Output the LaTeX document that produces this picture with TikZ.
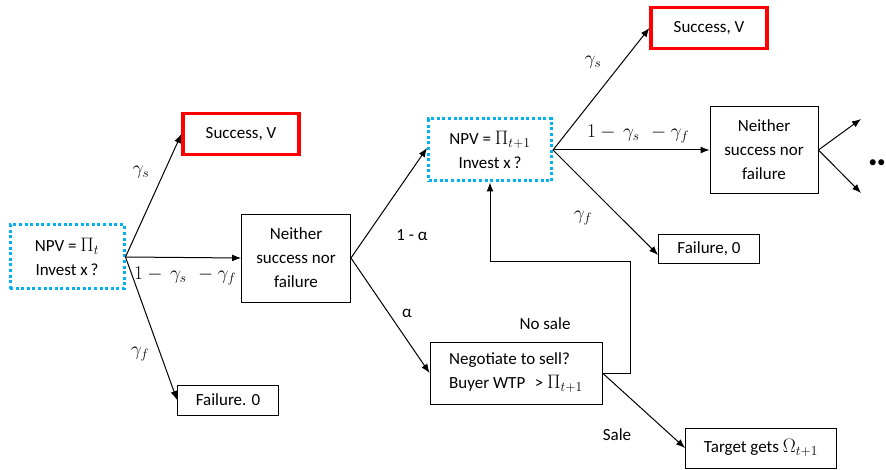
\documentclass[tikz,border=0pt]{standalone}
\usepackage{fix-cm}
\usepackage{fontspec}
\setmainfont{Carlito}
\DeclareMathSizes{17}{19.5}{13.5}{10}
\usetikzlibrary{arrows.meta}
\definecolor{cyanbox}{RGB}{0,176,240}
\definecolor{redbox}{RGB}{255,0,0}
\begin{document}
\begin{tikzpicture}[x=1pt,y=-1pt,
  every node/.style={font=\fontsize{17}{24}\selectfont},
  plain/.style={draw=black,line width=0.9pt,inner sep=0pt,align=center},
  dotbox/.style={draw=cyanbox,line width=3pt,dash pattern=on 3pt off 2.6pt,inner sep=0pt,align=center},
  redb/.style={draw=redbox,line width=3.2pt,inner sep=0pt,align=center},
  arr/.style={-{Latex[length=9pt,width=7pt]},line width=1pt},
  ln/.style={line width=1pt},
  lab/.style={inner sep=0pt}]
\useasboundingbox (0,0) rectangle (886,470);

% left part
\node[dotbox,minimum width=114pt,minimum height=64pt] (b1) at (67,257) {NPV = $\Pi_t$\\Invest x\,?};
\node[redb,minimum width=116pt,minimum height=41pt] (s1) at (241,134) {Success, V};
\node[plain,minimum width=109pt,minimum height=88pt] (n1) at (296,258) {Neither\\success nor\\failure};
\node[plain,minimum width=101pt,minimum height=30pt] (f1) at (228,400) {Failure. 0};

\draw[arr] (b1.east) -- (s1.west);
\draw[arr] (b1.east) -- (n1.west);
\draw[arr] (b1.east) -- (f1.west);

\node[lab] (l1) at (141,172) {$\gamma_s$};
\node[lab] (l2) at (185,276) {$1-\,\gamma_s\ \,-\gamma_f$};
\node[lab] (l3) at (140,354) {$\gamma_f$};

% middle
\node[dotbox,minimum width=123pt,minimum height=62pt] (b2) at (490,150) {NPV = $\Pi_{t+1}$\\Invest x\,?};
\node[plain,minimum width=172pt,minimum height=62pt,align=left] (ng) at (516,373) {Negotiate to sell?\\Buyer WTP\, \,> $\Pi_{t+1}$};
\node[plain,minimum width=151pt,minimum height=40pt] (tg) at (761,448) {Target gets $\Omega_{t+1}$};

\draw[arr] (n1.east) -- ([yshift=2pt]b2.west);
\draw[arr] (n1.east) -- (ng.west);
\node[lab] (l4) at (412,235) {1 - α};
\node[lab] (l5) at (407,313) {α};

\coordinate (c1) at (630,373);
\coordinate (c2) at (630,262);
\coordinate (c3) at (490,262);
\draw[ln] (ng.east) -- (c1) -- (c2) -- (c3);
\draw[arr] (c3) -- (b2.south);
\node[lab] (l6) at (545,324) {No sale};
\draw[arr] (ng.east) -- (tg.west);
\node[lab] (l7) at (617,435) {Sale};

% right part
\node[redb,minimum width=116pt,minimum height=41pt] (s2) at (709,28) {Success, V};
\node[plain,minimum width=108pt,minimum height=87pt] (n2) at (764,150) {Neither\\success nor\\failure};
\node[plain,minimum width=101pt,minimum height=29pt] (f2) at (709,249) {Failure, 0};

\draw[arr] (b2.east) -- (s2.west);
\draw[arr] (b2.east) -- (n2.west);
\draw[arr] (b2.east) -- ([yshift=-6pt]f2.west);

\node[lab] (l8) at (593,62) {$\gamma_s$};
\node[lab] (l9) at (638,134) {$1-\,\gamma_s\ \,-\gamma_f$};
\node[lab] (l10) at (583,218) {$\gamma_f$};

\coordinate (e1) at (861,119);
\coordinate (e2) at (861,193);
\draw[arr] (n2.east) -- (e1);
\draw[arr] (n2.east) -- (e2);
\node[lab,font=\fontsize{17}{20}\selectfont] (dots) at (877,164) {••};
\end{tikzpicture}
\end{document}
